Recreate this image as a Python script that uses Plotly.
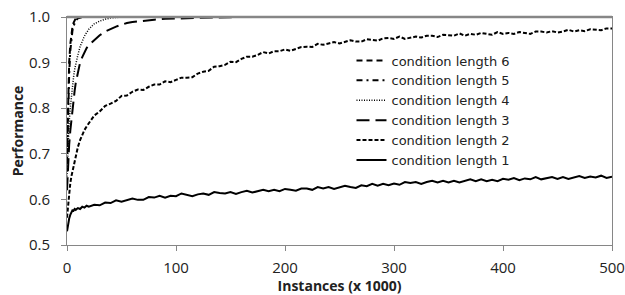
import plotly.graph_objects as go

# x values (instances, thousands) shared by the noisy series
x_early = [0, 1, 2, 3, 4, 5, 6, 7, 8, 10, 12, 14, 16, 18, 20]
x_late = list(range(25, 501, 5))
x_all = x_early + x_late

len1 = [0.530, 0.548, 0.558, 0.566, 0.572, 0.576, 0.575, 0.579, 0.577, 0.581, 0.579, 0.584, 0.582, 0.586, 0.584,
        0.588, 0.587, 0.593, 0.592, 0.598, 0.595, 0.599, 0.602, 0.599, 0.599, 0.605, 0.604, 0.608, 0.604, 0.608,
        0.607, 0.613, 0.610, 0.607, 0.611, 0.613, 0.610, 0.616, 0.614, 0.613, 0.616, 0.612, 0.616, 0.619, 0.615,
        0.618, 0.621, 0.618, 0.621, 0.618, 0.623, 0.621, 0.619, 0.624, 0.624, 0.621, 0.627, 0.624, 0.627, 0.623,
        0.627, 0.630, 0.627, 0.625, 0.631, 0.629, 0.634, 0.630, 0.634, 0.631, 0.635, 0.632, 0.638, 0.636, 0.638,
        0.634, 0.638, 0.641, 0.637, 0.641, 0.637, 0.641, 0.637, 0.640, 0.644, 0.640, 0.644, 0.640, 0.643, 0.640,
        0.645, 0.643, 0.647, 0.642, 0.646, 0.644, 0.649, 0.644, 0.647, 0.649, 0.645, 0.649, 0.645, 0.648, 0.651,
        0.647, 0.650, 0.648, 0.652, 0.647, 0.650]

len2 = [0.560, 0.590, 0.615, 0.635, 0.650, 0.662, 0.675, 0.687, 0.697, 0.715, 0.730, 0.742, 0.752, 0.760, 0.767,
        0.784, 0.793, 0.805, 0.810, 0.816, 0.827, 0.828, 0.836, 0.841, 0.840, 0.847, 0.852, 0.852, 0.859, 0.857,
        0.862, 0.867, 0.867, 0.868, 0.876, 0.880, 0.882, 0.891, 0.892, 0.895, 0.902, 0.901, 0.908, 0.913, 0.913,
        0.917, 0.923, 0.920, 0.925, 0.925, 0.929, 0.926, 0.930, 0.934, 0.935, 0.934, 0.941, 0.939, 0.942, 0.945,
        0.942, 0.946, 0.949, 0.946, 0.946, 0.951, 0.950, 0.948, 0.953, 0.954, 0.952, 0.957, 0.952, 0.955, 0.957,
        0.955, 0.959, 0.959, 0.956, 0.961, 0.960, 0.959, 0.964, 0.959, 0.963, 0.961, 0.965, 0.963, 0.961, 0.967,
        0.963, 0.965, 0.963, 0.967, 0.965, 0.963, 0.968, 0.968, 0.966, 0.969, 0.966, 0.968, 0.972, 0.968, 0.971,
        0.969, 0.973, 0.972, 0.971, 0.975, 0.975]

x_fast = [0, 1, 2, 3, 4, 5, 6, 7, 8, 10, 12, 14, 16, 18, 20, 25, 30, 35, 40, 45, 50, 55, 60, 70, 80, 90, 100,
          120, 140, 160, 200, 300, 400, 500]

len3 = [0.620, 0.680, 0.720, 0.750, 0.775, 0.800, 0.820, 0.838, 0.855, 0.880, 0.900, 0.912, 0.923, 0.932, 0.938,
        0.950, 0.960, 0.968, 0.974, 0.979, 0.983, 0.987, 0.989, 0.992, 0.994, 0.996, 0.997,
        0.998, 0.999, 1.000, 1.000, 1.000, 1.000, 1.000]

len4 = [0.650, 0.720, 0.770, 0.800, 0.828, 0.850, 0.868, 0.885, 0.897, 0.917, 0.935, 0.948, 0.958, 0.966, 0.973,
        0.985, 0.991, 0.995, 0.998, 0.999, 1.000, 1.000, 1.000, 1.000, 1.000, 1.000, 1.000,
        1.000, 1.000, 1.000, 1.000, 1.000, 1.000, 1.000]

len5 = [0.680, 0.790, 0.875, 0.925, 0.952, 0.970, 0.980, 0.987, 0.992, 0.997, 0.999, 1.000, 1.000, 1.000, 1.000,
        1.000, 1.000, 1.000, 1.000, 1.000, 1.000, 1.000, 1.000, 1.000, 1.000, 1.000, 1.000,
        1.000, 1.000, 1.000, 1.000, 1.000, 1.000, 1.000]

len6 = [0.700, 0.820, 0.900, 0.940, 0.965, 0.978, 0.987, 0.993, 0.997, 0.999, 1.000, 1.000, 1.000, 1.000, 1.000,
        1.000, 1.000, 1.000, 1.000, 1.000, 1.000, 1.000, 1.000, 1.000, 1.000, 1.000, 1.000,
        1.000, 1.000, 1.000, 1.000, 1.000, 1.000, 1.000]

series = [
    ("condition length 1", x_all, len1, "solid", 2),
    ("condition length 2", x_all, len2, "4px,2px", 2),
    ("condition length 3", x_fast, len3, "13px,6px", 2),
    ("condition length 4", x_fast, len4, "1px,1.5px", 1.5),
    ("condition length 5", x_fast, len5, "6px,4px,2px,4px", 2),
    ("condition length 6", x_fast, len6, "6px,4px", 2),
]

FONT = "'Open Sans', sans-serif"
LEGFONT = "'DejaVu Sans', sans-serif"
AX = "#868686"
TXT = "#222222"

fig = go.Figure()
for name, xs, ys, dash, w in series:
    fig.add_trace(go.Scatter(x=xs, y=ys, mode="lines", name=name,
                             line=dict(color="black", width=w, dash=dash)))

# plot-area top border drawn over the lines sitting at 1.0
fig.add_shape(type="line", xref="paper", yref="paper", x0=0, x1=1, y0=1, y1=1,
              line=dict(color=AX, width=2.5), layer="above")

fig.update_layout(
    width=625, height=295,
    margin=dict(l=67, r=13, t=17, b=50),
    paper_bgcolor="white", plot_bgcolor="white",
    font=dict(family=FONT, size=13, color=TXT),
    showlegend=True,
    legend=dict(x=0.522, y=0.875, xanchor="left", yanchor="top",
                traceorder="reversed", bgcolor="rgba(0,0,0,0)",
                font=dict(size=13, family=LEGFONT, color=TXT), itemwidth=30,
                tracegroupgap=0),
    xaxis=dict(range=[0, 500], dtick=100, tick0=0, showgrid=False, zeroline=False,
               showline=True, linecolor=AX, linewidth=1, mirror=True,
               ticks="outside", ticklen=5, tickcolor=AX, automargin=False,
               ticklabelstandoff=4,
               tickfont=dict(size=15, family=FONT, color=TXT),
               title=dict(text="<b>Instances (x 1000)</b>", standoff=0,
                          font=dict(size=14, family=FONT, color=TXT))),
    yaxis=dict(range=[0.5, 1.0], dtick=0.1, tick0=0.5, tickformat=".1f", showgrid=False,
               zeroline=False, showline=True, linecolor=AX, linewidth=1, mirror=True,
               ticks="outside", ticklen=5, tickcolor=AX, automargin=False,
               ticklabelstandoff=8,
               tickfont=dict(size=15, family=FONT, color=TXT),
               title=dict(text="<b>Performance</b>", standoff=2,
                          font=dict(size=14, family=FONT, color=TXT))),
)

fig.write_html("out.html", config={"displayModeBar": False},
               post_script="document.body.style.margin='0';")
